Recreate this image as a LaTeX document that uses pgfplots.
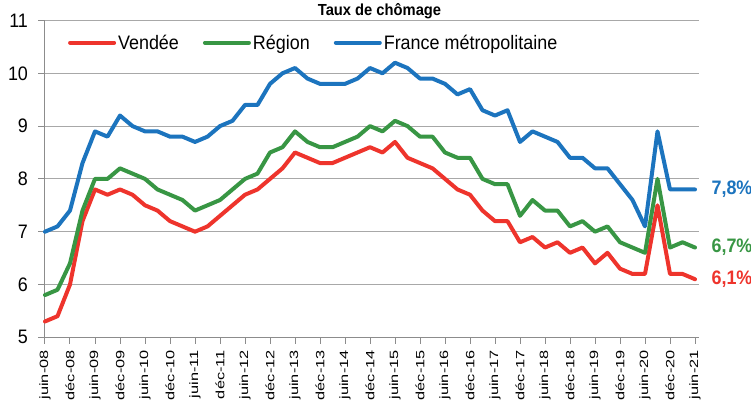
\documentclass[border=0pt]{standalone}
\usepackage{fontspec}
\setmainfont[FakeStretch=0.92]{Liberation Sans}
\newfontfamily\xtickfont[FakeStretch=1.36]{Liberation Sans}
\usepackage{pgfplots}
\pgfplotsset{compat=1.18}
\usepackage{pgfplotstable}
\definecolor{cred}{RGB}{238,52,44}
\definecolor{cgreen}{RGB}{56,150,68}
\definecolor{cblue}{RGB}{28,116,190}
\definecolor{cgrid}{RGB}{168,168,168}
\definecolor{caxis}{RGB}{140,140,140}

\pgfplotstableread{
i v r f
0 5.3 5.8 7.0
1 5.4 5.9 7.1
2 6.0 6.4 7.4
3 7.2 7.4 8.3
4 7.8 8.0 8.9
5 7.7 8.0 8.8
6 7.8 8.2 9.2
7 7.7 8.1 9.0
8 7.5 8.0 8.9
9 7.4 7.8 8.9
10 7.2 7.7 8.8
11 7.1 7.6 8.8
12 7.0 7.4 8.7
13 7.1 7.5 8.8
14 7.3 7.6 9.0
15 7.5 7.8 9.1
16 7.7 8.0 9.4
17 7.8 8.1 9.4
18 8.0 8.5 9.8
19 8.2 8.6 10.0
20 8.5 8.9 10.1
21 8.4 8.7 9.9
22 8.3 8.6 9.8
23 8.3 8.6 9.8
24 8.4 8.7 9.8
25 8.5 8.8 9.9
26 8.6 9.0 10.1
27 8.5 8.9 10.0
28 8.7 9.1 10.2
29 8.4 9.0 10.1
30 8.3 8.8 9.9
31 8.2 8.8 9.9
32 8.0 8.5 9.8
33 7.8 8.4 9.6
34 7.7 8.4 9.7
35 7.4 8.0 9.3
36 7.2 7.9 9.2
37 7.2 7.9 9.3
38 6.8 7.3 8.7
39 6.9 7.6 8.9
40 6.7 7.4 8.8
41 6.8 7.4 8.7
42 6.6 7.1 8.4
43 6.7 7.2 8.4
44 6.4 7.0 8.2
45 6.6 7.1 8.2
46 6.3 6.8 7.9
47 6.2 6.7 7.6
48 6.2 6.6 7.1
49 7.5 8.0 8.9
50 6.2 6.7 7.8
51 6.2 6.8 7.8
52 6.1 6.7 7.8
}\datatable

\begin{document}
\begin{tikzpicture}
\begin{axis}[
  scale only axis, width=654pt, height=316.8pt,
  xmin=0, xmax=52.32, ymin=5, ymax=11,
  axis x line*=bottom, axis y line*=left,
  axis line style={draw=caxis, line width=1pt},
  ytick={5,6,...,11}, ymajorgrids,
  grid style={draw=cgrid, line width=1pt},
  xtick={0,2,...,52},
  xticklabels={juin-08,déc-08,juin-09,déc-09,juin-10,déc-10,juin-11,déc-11,juin-12,déc-12,juin-13,déc-13,juin-14,déc-14,juin-15,déc-15,juin-16,déc-16,juin-17,déc-17,juin-18,déc-18,juin-19,déc-19,juin-20,déc-20,juin-21},
  tick align=outside, major tick length=6.5pt,
  tick style={draw=caxis, line width=1pt},
  /pgf/number format/assume math mode=true,
  yticklabel style={font=\fontsize{19.5}{20}\selectfont, xshift=-7pt},
  xticklabel style={font=\xtickfont\fontsize{12}{12}\selectfont, yshift=-3pt, rotate=90, anchor=east},
  clip=false,
  legend columns=3,
  legend style={draw=none, fill=none, at={(0.035,0.93)}, anchor=west,
    font=\fontsize{19.5}{20}\selectfont, inner sep=0pt,
    /tikz/every even column/.append style={column sep=22pt}},
  legend image code/.code={\draw[#1] (0pt,0pt) -- (44pt,0pt);},
  every axis plot/.append style={line width=4pt, line join=round, line cap=round},
]
\addplot[cred] table[x=i, y=v] {\datatable};
\addlegendentry{Vendée}
\addplot[cgreen] table[x=i, y=r] {\datatable};
\addlegendentry{Région}
\addplot[cblue] table[x=i, y=f] {\datatable};
\addlegendentry{France métropolitaine}
\node[anchor=west, xshift=13pt, text=cblue, font=\bfseries\fontsize{19.5}{20}\selectfont] at (axis cs:52,7.8) {7,8\%};
\node[anchor=west, xshift=13pt, text=cgreen, font=\bfseries\fontsize{19.5}{20}\selectfont] at (axis cs:52,6.7) {6,7\%};
\node[anchor=west, xshift=13pt, text=cred, font=\bfseries\fontsize{19.5}{20}\selectfont] at (axis cs:52,6.1) {6,1\%};
\node[anchor=base, xshift=7.5pt, yshift=5pt, font=\bfseries\fontsize{16}{16}\selectfont] at (rel axis cs:0.5,1) {Taux de chômage};
\coordinate (O) at (rel axis cs:0,0);
\end{axis}
\pgfresetboundingbox
\path[use as bounding box] ([xshift=-45pt,yshift=-63.7pt]O) rectangle ([xshift=706pt,yshift=337.3pt]O);
\end{tikzpicture}
\end{document}
